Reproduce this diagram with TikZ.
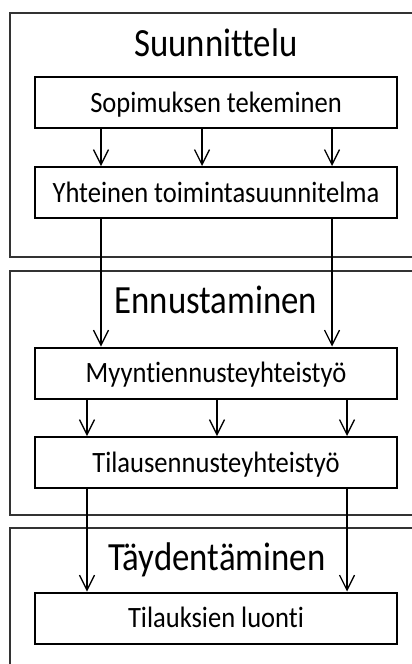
\documentclass[tikz,border=0pt]{standalone}
\usepackage{fontspec}
\setmainfont{Carlito}[Ligatures=NoCommon]
\newfontfamily\narrowfont{Carlito}[FakeStretch=0.87,Ligatures=NoCommon]
\newfontfamily\boxfont{Carlito}[FakeStretch=0.9,Ligatures=NoCommon]
\usetikzlibrary{arrows.meta}
\begin{document}
\begin{tikzpicture}[x=1pt,y=-1pt,
  outer/.style={draw=black!80,line width=1.4pt},
  stepbox/.style={draw,line width=2pt,minimum width=362pt,minimum height=51pt,inner sep=0pt,
    text height=19.5pt,text depth=0pt,font=\boxfont\fontsize{29.5}{32}\selectfont},
  title/.style={font=\narrowfont\fontsize{40}{44}\selectfont,inner sep=0pt,anchor=base},
  arr/.style={line width=1.3pt,-{Straight Barb[length=15pt,width=15pt,line width=1.3pt]}}]
\useasboundingbox (0,0) rectangle (412,664);
\begin{scope}
\clip (0,0) rectangle (412,664);
\draw[outer] (10,13) rectangle (430,257);
\draw[outer] (10,271) rectangle (430,515);
\draw[outer] (10,528) rectangle (430,700);
\end{scope}
\node[title] (t1) at (216,56) {Suunnittelu};
\node[title] (t2) at (216,313) {Ennustaminen};
\node[title] (t3) at (217,570) {Täydentäminen};
\node[stepbox] (s) at (216,102.5) {Sopimuksen tekeminen};
\node[stepbox] (y) at (216,192.5) {Yhteinen toimintasuunnitelma};
\node[stepbox] (m) at (216,373) {Myyntiennusteyhteistyö};
\node[stepbox] (t) at (216,462.5) {Tilausennusteyhteistyö};
\node[stepbox] (l) at (216,618) {Tilauksien luonti};
\coordinate (a1) at (101,0);
\coordinate (a2) at (202,0);
\coordinate (a3) at (332,0);
\coordinate (b1) at (87,0);
\coordinate (b2) at (217,0);
\coordinate (b3) at (347,0);
\foreach \c in {a1,a2,a3} \draw[arr] (s.south -| \c) -- (y.north -| \c);
\foreach \c in {a1,a3} \draw[arr] (y.south -| \c) -- (m.north -| \c);
\foreach \c in {b1,b2,b3} \draw[arr] (m.south -| \c) -- (t.north -| \c);
\foreach \c in {b1,b3} \draw[arr] (t.south -| \c) -- (l.north -| \c);
\end{tikzpicture}
\end{document}
